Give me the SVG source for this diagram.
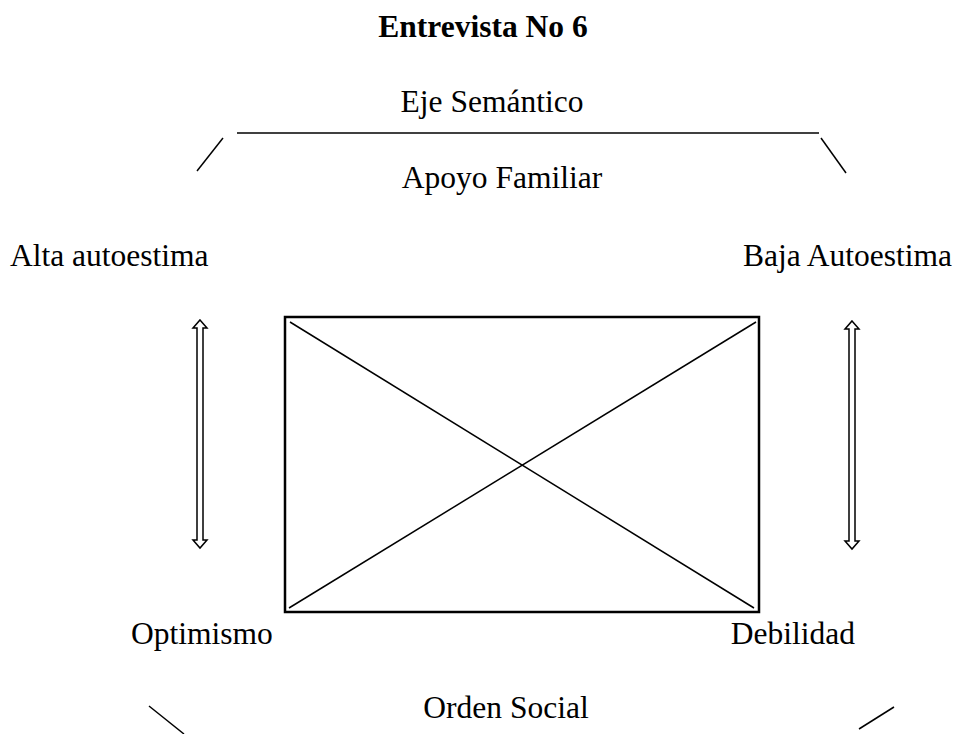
<svg xmlns="http://www.w3.org/2000/svg" width="959" height="734" viewBox="0 0 959 734">
<style>
text{font-family:"Liberation Serif","Times New Roman",serif;font-size:31.5px;fill:#000}
.b{font-weight:bold}
.ln{stroke:#000;stroke-width:1.5;fill:none}
.arr{fill:#fff;stroke:#000;stroke-width:1.5;stroke-linejoin:miter}
</style>
<rect width="959" height="734" fill="#fff"/>
<g id="title"><text class="b" x="483" y="37" text-anchor="middle">Entrevista No 6</text></g>
<g id="eje"><text x="492" y="112" text-anchor="middle">Eje Semántico</text></g>
<g id="apoyo"><text x="502" y="188" text-anchor="middle">Apoyo Familiar</text></g>
<g id="alta"><text x="10" y="266">Alta autoestima</text></g>
<g id="baja"><text x="952" y="266" text-anchor="end">Baja Autoestima</text></g>
<g id="optimismo"><text x="131" y="644">Optimismo</text></g>
<g id="debilidad"><text x="855" y="644" text-anchor="end">Debilidad</text></g>
<g id="orden"><text x="506" y="718" text-anchor="middle">Orden Social</text></g>
<g id="box">
<rect x="285" y="317" width="474" height="295" fill="none" stroke="#000" stroke-width="2.5"/>
<line class="ln" x1="290" y1="322" x2="754" y2="608"/>
<line class="ln" x1="756" y1="322" x2="289" y2="608"/>
</g>
<g id="connectors">
<line class="ln" x1="237" y1="133" x2="819" y2="133"/>
<line class="ln" x1="223" y1="138" x2="197" y2="171"/>
<line class="ln" x1="821" y1="138" x2="846" y2="173"/>
<line class="ln" x1="149" y1="706" x2="184" y2="734"/>
<line class="ln" x1="894" y1="707" x2="859" y2="729"/>
<path class="arr" d="M200,320 L207,328 L203,328 L203,540 L207,540 L200,548 L193,540 L197,540 L197,328 L193,328 Z"/>
<path class="arr" d="M852,321 L859,329 L855,329 L855,541 L859,541 L852,549 L845,541 L849,541 L849,329 L845,329 Z"/>
</g>
</svg>
